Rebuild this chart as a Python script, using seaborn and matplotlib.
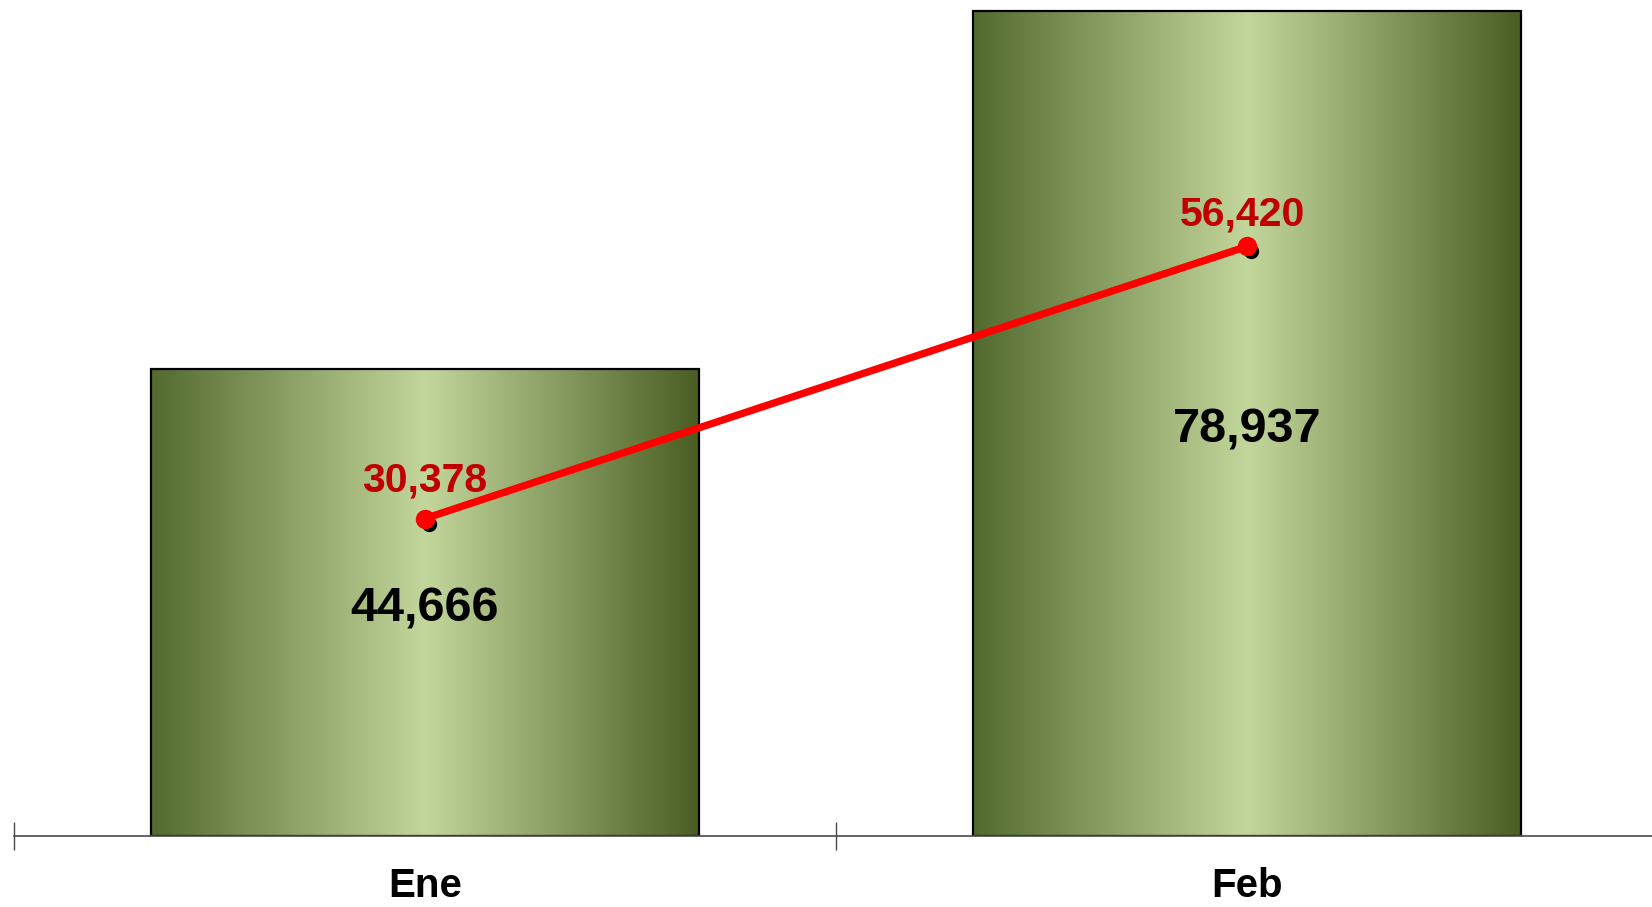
#!/usr/bin/env python3

import numpy as np
import matplotlib
matplotlib.use('Agg')
import matplotlib.pyplot as plt
from matplotlib.colors import LinearSegmentedColormap
from matplotlib.transforms import offset_copy
import seaborn as sns


months = ['Ene', 'Feb']
bar_values = [44666, 78937]
line_values = [30378, 56420]


#------------------------------------------------------------------------------------
# style
#------------------------------------------------------------------------------------
sns.set_style('white')
plt.rcParams['font.family'] = ['Liberation Sans', 'DejaVu Sans']

olive = LinearSegmentedColormap.from_list(
    'olive', [(0.0, '#536a2e'), (0.5, '#c3d69b'), (1.0, '#4a5e24')])
axis_grey = '#4a4a4a'

fig = plt.figure(figsize=(16.52, 9.07), dpi=100)
ax = fig.add_axes([14 / 1652, 71 / 907, 1644 / 1652, 836 / 907])

# bars
sns.barplot(x=months, y=bar_values, width=0.667, color='white',
            edgecolor='black', linewidth=1.6, ax=ax, zorder=2)

# gradient fill clipped to each bar
grad = np.linspace(0, 1, 256).reshape(1, -1)
for bar in ax.patches:
    x0, y0 = bar.get_x(), bar.get_y()
    w, h = bar.get_width(), bar.get_height()
    im = ax.imshow(grad, cmap=olive, aspect='auto', interpolation='bicubic',
                   extent=(x0, x0 + w, y0, y0 + h), zorder=1.5)
    im.set_clip_path(bar)
    bar.set_facecolor('none')

# shadow dots under the line markers
shadow = offset_copy(ax.transData, fig=fig, x=4, y=-5, units='dots')
ax.plot(range(len(months)), line_values, 'o', color='black', markersize=10,
        transform=shadow, zorder=3)

# red line
sns.pointplot(x=months, y=line_values, color='#ff0000', markers='o',
              markersize=10, linewidth=5.3, ax=ax, zorder=4)

# labels
for i, v in enumerate(bar_values):
    ax.annotate(f'{v:,}', (i, v / 2), xytext=(0, -6),
                textcoords='offset pixels', ha='center', va='center',
                fontsize=35, fontweight='bold', color='black', zorder=5)

label_offsets = [(0, 38), (-5, 32)]
for i, v in enumerate(line_values):
    ax.annotate(f'{v:,}', (i, v), xytext=label_offsets[i],
                textcoords='offset pixels', ha='center', va='center',
                fontsize=29.5, fontweight='bold', color='#c00000', zorder=5)

ax.set_xlim(-0.5, len(months) - 0.5)
ax.set_ylim(0, 80000)

# ticks on the category borders, labels at the centres
ax.set_xticks(np.arange(len(months) + 1) - 0.5)
ax.set_xticklabels([])
ax.set_xticks(range(len(months)), months, minor=True)
ax.tick_params(axis='x', which='major', direction='inout', length=20,
               width=1.0, color=axis_grey, bottom=True)
ax.tick_params(axis='x', which='minor', length=0, pad=22.5, labelsize=29,
               labelcolor='black')
for lab in ax.get_xticklabels(minor=True):
    lab.set_fontweight('bold')
ax.set_yticks([])
ax.set_xlabel('')
ax.set_ylabel('')

for side in ['left', 'right', 'top']:
    ax.spines[side].set_visible(False)
ax.spines['bottom'].set_color(axis_grey)
ax.spines['bottom'].set_linewidth(1.2)
ax.patch.set_alpha(0)

plt.savefig('out.png', dpi=100)
